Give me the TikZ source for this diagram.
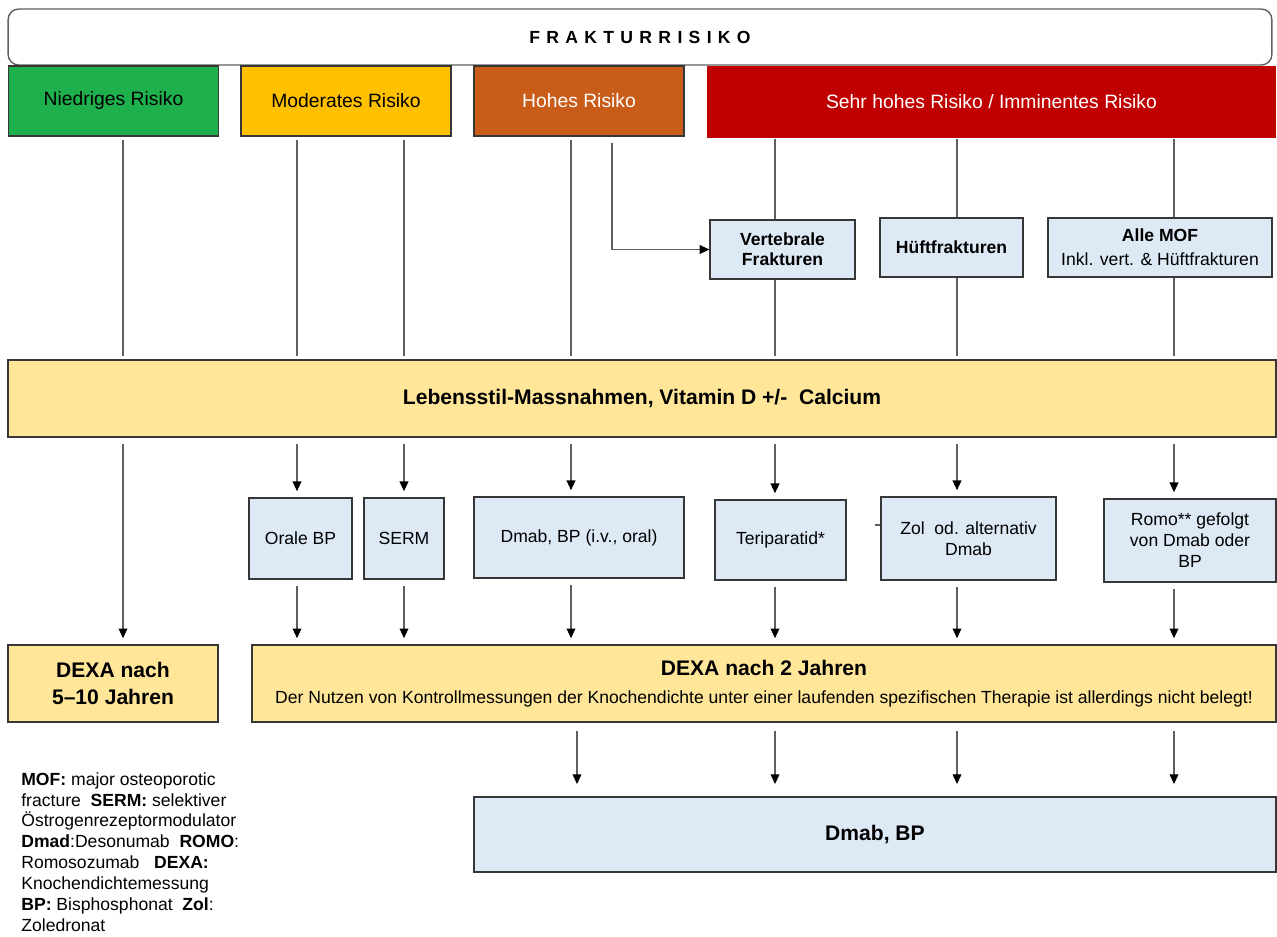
\documentclass[tikz,border=0pt]{standalone}
\usepackage{fontspec}
\setmainfont{Liberation Sans}
\newfontfamily\spacedfont[LetterSpace=36]{Liberation Sans}
\usetikzlibrary{arrows.meta}
\definecolor{riskgreen}{RGB}{30,176,76}
\definecolor{riskyellow}{RGB}{255,192,0}
\definecolor{riskorange}{RGB}{202,92,26}
\definecolor{riskred}{RGB}{192,0,0}
\definecolor{boxblue}{RGB}{222,233,246}
\definecolor{boxsand}{RGB}{255,230,153}
\definecolor{edgegray}{RGB}{55,55,55}
\definecolor{wiregray}{RGB}{95,95,95}

\begin{document}
\begin{tikzpicture}[x=0.02cm, y=-0.02cm,
  cell/.style={rectangle, draw=edgegray, line width=0.8pt, inner sep=2pt, align=center, font=\fontsize{10}{12}\selectfont},
  riskcell/.style={cell, minimum width=4.2cm, minimum height=1.4cm, font=\fontsize{11}{13}\selectfont},
  fraccell/.style={cell, fill=boxblue, minimum height=1.18cm, font=\fontsize{10}{11.5}\selectfont\bfseries},
  therapy/.style={cell, fill=boxblue, minimum height=1.62cm},
  sandcell/.style={cell, fill=boxsand, minimum height=1.54cm, font=\fontsize{12}{15}\selectfont\bfseries},
  link/.style={draw=wiregray, line width=0.6pt},
  tie/.style={link, shorten <=2pt, shorten >=2pt},
  feed/.style={link, -{Triangle[length=5.5pt, width=5pt, color=black]}, shorten <=3.5pt, shorten >=3.5pt}]
\useasboundingbox (0,0) rectangle (1277,936);

\node[cell, rounded corners=6pt, draw=wiregray, minimum width=25.28cm, minimum height=1.12cm, font=\fontsize{10}{12}\selectfont\spacedfont\bfseries] (head) at (640,37) {FRAKTURRISIKO};
\node[riskcell, fill=riskgreen] (low) at (113.5,101) {Niedriges Risiko};
\node[riskcell, fill=riskyellow] (mod) at (346,101) {Moderates Risiko};
\node[riskcell, fill=riskorange, text=white] (high) at (579,101) {Hohes Risiko};
\node[riskcell, fill=riskred, draw=none, text=white, minimum width=11.38cm, minimum height=1.44cm] (vhigh) at (991.5,102) {Sehr hohes Risiko / Imminentes Risiko};

\node[fraccell, minimum width=2.9cm] (vert) at (782.5,249.5) {Vertebrale\\Frakturen};
\node[fraccell, minimum width=2.86cm] (hip) at (951.5,247.5) {Hüftfrakturen};
\node[fraccell, minimum width=4.48cm] (mof) at (1160,247.5) {Alle MOF\\[2pt]{\mdseries Inkl. vert. \& Hüftfrakturen}};

\node[sandcell, minimum width=25.36cm] (life) at (642,398.5) {Lebensstil-Massnahmen, Vitamin D +/-\ \ Calcium};

\node[therapy, minimum width=2.06cm] (orale) at (300.5,538.5) {Orale BP};
\node[therapy, minimum width=1.6cm] (serm) at (404,538.5) {SERM};
\node[therapy, minimum width=4.2cm] (dbp) at (579,537.5) {Dmab, BP (i.v., oral)};
\node[therapy, minimum width=2.62cm, minimum height=1.6cm] (teri) at (780.5,540) {\raisebox{-4pt}{Teriparatid*}};
\node[therapy, minimum width=3.5cm, minimum height=1.66cm] (zol) at (968.5,538.5) {Zol\ \ od. alternativ\\Dmab};
\node[therapy, minimum width=3.44cm, minimum height=1.66cm] (romo) at (1190,540.5) {Romo** gefolgt\\von Dmab oder\\BP};

\node[sandcell, minimum width=4.2cm] (dexa10) at (113,683.5) {DEXA nach\\5--10 Jahren};
\node[sandcell, minimum width=20.48cm] (dexa2) at (764,683.5) {DEXA nach 2 Jahren\\[1pt]{\fontsize{10}{12}\selectfont\mdseries Der Nutzen von Kontrollmessungen der Knochendichte unter einer laufenden spezifischen Therapie ist allerdings nicht belegt!}};

\node[cell, fill=boxblue, minimum width=16.04cm, minimum height=1.5cm, font=\fontsize{12}{14}\selectfont\bfseries] (final) at (875,834.5) {Dmab, BP};

\node[anchor=north west, inner sep=0pt, align=left, font=\fontsize{10}{11.9}\selectfont] (legend) at (21,772) {\textbf{MOF:} major osteoporotic\\fracture\ \ \textbf{SERM:} selektiver\\Östrogenrezeptormodulator\\\textbf{Dmad}:Desonumab\ \ \textbf{ROMO}:\\Romosozumab\ \ \ \textbf{DEXA:}\\Knochendichtemessung\\\textbf{BP:} Bisphosphonat\ \ \textbf{Zol}:\\Zoledronat};

\coordinate (c1) at (123,0);
\coordinate (c2) at (297,0);
\coordinate (c3) at (404,0);
\coordinate (c4) at (571,0);
\coordinate (c4b) at (577,0);
\coordinate (c5) at (612,0);
\coordinate (c6) at (775,0);
\coordinate (c7) at (957,0);
\coordinate (c8) at (1174,0);

\draw[tie] (low.south -| c1) -- (life.north -| c1);
\draw[tie] (mod.south -| c2) -- (life.north -| c2);
\draw[tie] (mod.south -| c3) -- (life.north -| c3);
\draw[tie] (high.south -| c4) -- (life.north -| c4);
\draw[feed, shorten >=0pt] (high.south -| c5) |- (vert.west);
\draw[link] (vhigh.south -| c6) -- (vert.north -| c6);
\draw[link] (vhigh.south -| c7) -- (hip.north -| c7);
\draw[link] (vhigh.south -| c8) -- (mof.north -| c8);
\draw[tie, shorten <=0pt] (vert.south -| c6) -- (life.north -| c6);
\draw[tie, shorten <=0pt] (hip.south -| c7) -- (life.north -| c7);
\draw[tie, shorten <=0pt] (mof.south -| c8) -- (life.north -| c8);

\draw[feed] (life.south -| c1) -- (dexa10.north -| c1);
\draw[feed] (life.south -| c2) -- (orale.north -| c2);
\draw[feed] (life.south -| c3) -- (serm.north -| c3);
\draw[feed] (life.south -| c4) -- (dbp.north -| c4);
\draw[feed] (life.south -| c6) -- (teri.north -| c6);
\draw[feed] (life.south -| c7) -- (zol.north -| c7);
\draw[feed] (life.south -| c8) -- (romo.north -| c8);
\draw[link] ([yshift=0.27cm]zol.west) -- ++(-5,0);

\draw[feed] (orale.south -| c2) -- (dexa2.north -| c2);
\draw[feed] (serm.south -| c3) -- (dexa2.north -| c3);
\draw[feed] (dbp.south -| c4) -- (dexa2.north -| c4);
\draw[feed] (teri.south -| c6) -- (dexa2.north -| c6);
\draw[feed] (zol.south -| c7) -- (dexa2.north -| c7);
\draw[feed] (romo.south -| c8) -- (dexa2.north -| c8);

\draw[feed, shorten <=5pt, shorten >=7pt] (dexa2.south -| c4b) -- (final.north -| c4b);
\draw[feed, shorten <=5pt, shorten >=7pt] (dexa2.south -| c6) -- (final.north -| c6);
\draw[feed, shorten <=5pt, shorten >=7pt] (dexa2.south -| c7) -- (final.north -| c7);
\draw[feed, shorten <=5pt, shorten >=7pt] (dexa2.south -| c8) -- (final.north -| c8);
\end{tikzpicture}
\end{document}
